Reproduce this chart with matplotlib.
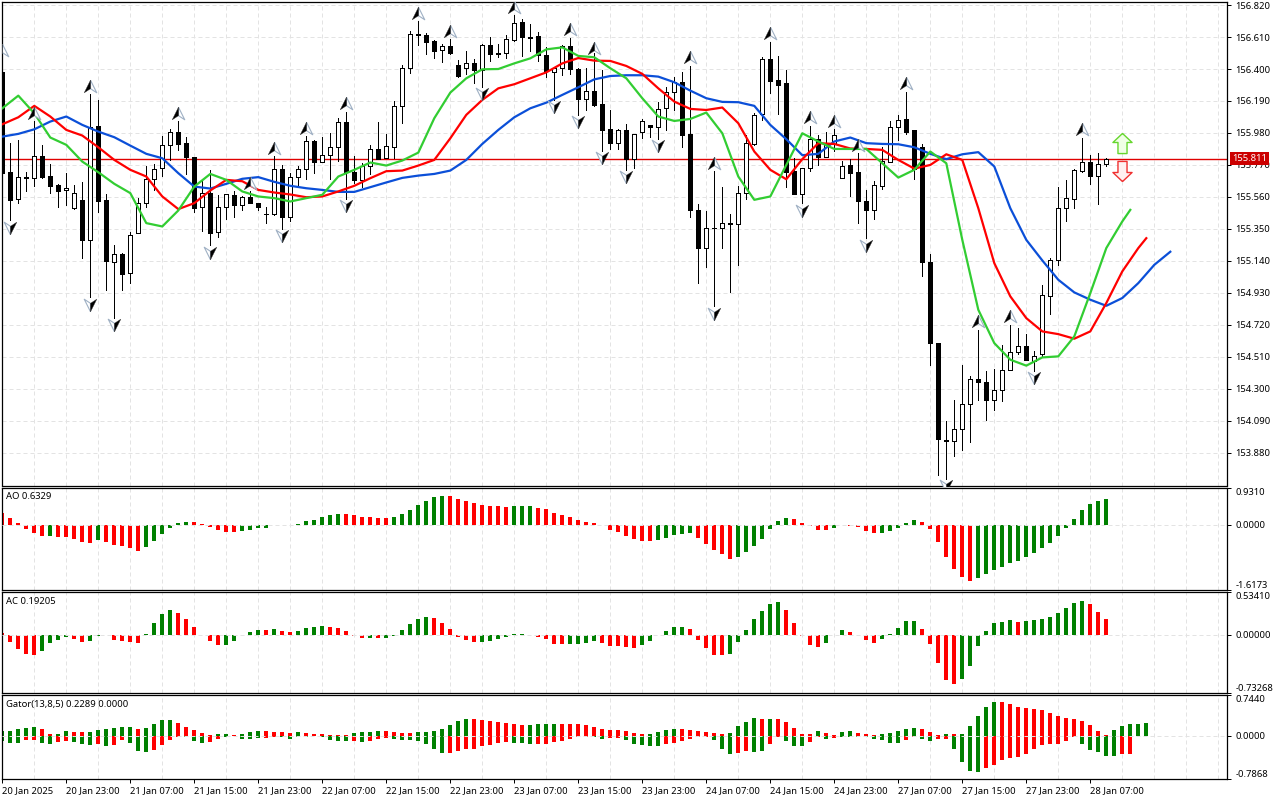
import matplotlib
matplotlib.use("Agg")
import matplotlib.pyplot as plt
import numpy as np

plt.rcParams['font.family'] = ['Noto Sans', 'DejaVu Sans']

# candles, one entry per hour bar
highs = [156.394,155.913,155.934,155.722,156.061,155.902,155.777,155.646,155.718,155.637,
 155.655,156.236,156.197,155.580,155.246,155.191,155.329,155.552,155.760,155.777,
 155.961,156.004,156.061,155.954,155.825,155.679,155.738,155.574,155.578,155.602,
 155.563,155.600,155.521,155.493,155.830,155.770,155.716,155.764,155.961,155.934,
 155.956,155.978,156.077,156.118,155.829,155.781,155.902,156.053,155.972,156.190,
 156.424,156.647,156.715,156.634,156.588,156.562,156.595,156.457,156.518,156.464,
 156.562,156.608,156.564,156.621,156.755,156.726,156.696,156.641,156.547,156.405,
 156.558,156.604,156.405,156.405,156.503,156.394,156.131,156.004,156.039,155.972,
 156.070,156.031,156.184,156.280,156.350,156.381,156.420,155.512,155.469,155.731,
 155.626,155.449,155.633,155.967,156.109,156.477,156.577,156.486,156.394,155.814,
 155.749,156.026,155.967,155.987,156.004,155.795,155.812,155.847,155.606,155.663,
 155.891,156.061,156.099,156.249,156.000,155.910,155.187,154.600,154.086,154.229,
 154.458,154.386,154.683,154.419,154.430,154.589,154.721,154.701,154.662,154.548,
 154.983,155.156,155.624,155.672,155.742,155.945,155.836,155.851,155.814]
lows = [155.705,155.410,155.523,155.596,155.635,155.687,155.589,155.491,155.510,155.480,
 155.162,154.900,155.464,154.946,154.764,154.946,154.998,155.322,155.491,155.606,
 155.700,155.803,155.869,155.711,155.458,155.333,155.246,155.300,155.416,155.425,
 155.471,155.517,155.471,155.392,155.442,155.350,155.401,155.628,155.679,155.714,
 155.792,155.679,155.799,155.547,155.650,155.628,155.711,155.808,155.814,155.814,
 156.048,156.376,156.558,156.499,156.472,156.448,156.501,156.350,156.368,156.311,
 156.284,156.453,156.481,156.475,156.584,156.488,156.521,156.455,156.350,156.197,
 156.361,156.368,156.099,156.131,156.158,155.864,155.875,155.875,155.738,155.749,
 155.948,155.956,155.943,156.000,156.131,155.891,155.425,154.998,155.103,154.841,
 155.222,154.933,155.114,155.547,155.902,156.066,156.245,156.105,155.622,155.576,
 155.517,155.727,155.770,155.819,155.864,155.681,155.567,155.392,155.287,155.418,
 155.615,155.788,155.934,155.974,155.679,155.042,154.458,153.732,153.708,153.857,
 153.896,153.949,154.224,154.093,154.163,154.218,154.423,154.528,154.487,154.419,
 154.509,154.793,155.114,155.399,155.484,155.722,155.646,155.515,155.766]
body_top = [156.383,155.722,155.690,155.690,155.827,155.829,155.698,155.639,155.617,155.585,
 155.541,156.017,156.026,155.541,155.184,155.187,155.309,155.519,155.676,155.742,
 155.899,155.985,155.985,155.913,155.821,155.585,155.585,155.493,155.578,155.574,
 155.558,155.558,155.521,155.449,155.742,155.742,155.690,155.742,155.926,155.926,
 155.834,155.886,156.050,156.050,155.722,155.764,155.873,155.873,155.893,156.155,
 156.405,156.628,156.628,156.621,156.582,156.549,156.549,156.424,156.437,156.437,
 156.556,156.556,156.503,156.595,156.704,156.706,156.612,156.615,156.490,156.405,
 156.551,156.549,156.402,156.254,156.256,156.168,156.004,155.998,155.998,155.972,
 156.057,156.031,156.136,156.247,156.317,156.315,155.974,155.475,155.355,155.357,
 155.388,155.388,155.585,155.913,156.096,156.464,156.464,156.328,156.306,155.729,
 155.749,155.939,155.939,155.908,155.965,155.766,155.770,155.722,155.532,155.637,
 155.795,156.017,156.064,156.072,155.998,155.889,155.132,154.600,153.964,154.036,
 154.200,154.364,154.364,154.345,154.292,154.423,154.541,154.581,154.581,154.515,
 154.915,155.145,155.486,155.552,155.735,155.788,155.788,155.773,155.812]
body_bot = [155.720,155.543,155.545,155.681,155.683,155.694,155.635,155.602,155.604,155.484,
 155.274,155.274,155.536,155.136,155.132,155.057,155.060,155.322,155.519,155.676,
 155.749,155.899,155.910,155.825,155.484,155.493,155.326,155.329,155.493,155.504,
 155.504,155.517,155.491,155.445,155.447,155.425,155.427,155.690,155.742,155.792,
 155.792,155.834,155.886,155.722,155.672,155.674,155.762,155.812,155.814,155.891,
 156.155,156.405,156.621,156.580,156.521,156.523,156.507,156.354,156.409,156.396,
 156.396,156.497,156.497,156.503,156.588,156.608,156.606,156.490,156.385,156.378,
 156.405,156.402,156.206,156.206,156.164,156.002,155.917,155.917,155.808,155.808,
 155.985,156.022,156.022,156.142,156.247,155.969,155.477,155.222,155.222,155.353,
 155.355,155.381,155.381,155.585,155.906,156.107,156.324,156.297,155.725,155.580,
 155.582,155.749,155.819,155.819,155.908,155.687,155.720,155.530,155.477,155.477,
 155.635,155.792,156.017,155.987,155.742,155.130,154.600,153.971,153.955,153.957,
 154.036,154.200,154.342,154.224,154.226,154.292,154.423,154.541,154.487,154.480,
 154.526,154.907,155.145,155.486,155.545,155.733,155.700,155.700,155.773]
candle_dirs = ("ddududdduu" "dudduduuuu" "uuddduduud" "uddduduuud" "uuudduuduu"
 "uuddduddud" "udduuddddu" "uddudddudu" "uduuudddud" "uduuuudddd"
 "uuduuudddu" "uuuddddddu" "uudduuuudu" "uuuuuuduu")

last_price = 155.811

# alligator lines, read every second bar
jaw_idx = list(range(0, 147, 2))
jaw = [155.956,155.974,156.004,156.055,156.088,156.033,155.989,155.952,155.897,155.843,
 155.814,155.716,155.628,155.615,155.646,155.679,155.690,155.659,155.633,155.617,
 155.606,155.593,155.593,155.624,155.655,155.685,155.700,155.711,155.733,155.803,
 155.908,156.000,156.083,156.142,156.179,156.230,156.280,156.332,156.354,156.359,
 156.359,156.350,156.313,156.258,156.208,156.184,156.182,156.158,156.033,155.939,
 155.834,155.843,155.924,155.950,155.913,155.908,155.906,155.886,155.843,155.808,
 155.840,155.854,155.760,155.486,155.278,155.143,155.016,154.933,154.885,154.845,
 154.896,154.994,155.114,155.200]
teeth_idx = list(range(0, 143, 2)) + [143]
teeth = [156.037,156.083,156.158,156.088,156.000,155.963,155.886,155.803,155.738,155.694,
 155.563,155.480,155.519,155.602,155.672,155.663,155.606,155.589,155.576,155.558,
 155.563,155.596,155.633,155.683,155.729,155.733,155.766,155.803,155.945,156.099,
 156.197,156.273,156.300,156.339,156.378,156.437,156.472,156.455,156.453,156.420,
 156.368,156.273,156.186,156.138,156.131,156.147,156.044,155.858,155.738,155.676,
 155.808,155.913,155.908,155.878,155.875,155.869,155.803,155.746,155.770,155.840,
 155.803,155.486,155.125,154.907,154.764,154.677,154.659,154.629,154.677,154.863,
 155.071,155.224,155.289]
lips_idx = list(range(0, 141, 2)) + [141]
lips = [156.142,156.225,156.109,155.950,155.902,155.792,155.722,155.646,155.585,155.388,
 155.366,155.471,155.628,155.711,155.672,155.596,155.563,155.552,155.530,155.552,
 155.574,155.694,155.738,155.786,155.766,155.799,155.851,156.077,156.245,156.339,
 156.398,156.400,156.437,156.470,156.529,156.542,156.486,156.477,156.405,156.339,
 156.208,156.088,156.059,156.072,156.114,155.978,155.694,155.541,155.563,155.770,
 155.978,155.924,155.875,155.875,155.875,155.781,155.687,155.738,155.858,155.781,
 155.278,154.819,154.600,154.491,154.452,154.506,154.513,154.644,154.928,155.224,
 155.399,155.475]

# fractals
frac_up_idx = [0,4,11,22,31,34,38,43,52,56,64,71,74,86,89,96,101,104,107,113,122,126,135]
frac_up = [156.525,156.114,156.289,156.114,155.650,155.884,156.015,156.175,156.770,156.652,
 156.809,156.661,156.536,156.477,155.786,156.634,156.083,156.059,155.902,156.306,
 154.743,154.775,156.004]
frac_dn_idx = [1,11,14,26,35,43,60,69,72,75,78,82,89,100,108,118,129]
frac_dn = [155.359,154.852,154.721,155.195,155.305,155.501,156.234,156.153,156.050,155.814,
 155.694,155.895,154.793,155.469,155.239,153.664,154.371]

# AO
ao = [.292,.175,.05,-.092,-.2,-.275,-.275,-.3,-.3,-.35,
 -.425,-.45,-.375,-.425,-.5,-.525,-.575,-.65,-.55,-.4,
 -.225,-.075,.05,.075,.075,.017,-.042,-.125,-.175,-.175,
 -.15,-.125,-.075,-.075,-.008,-.008,.003,.017,.1,.125,
 .2,.25,.275,.275,.25,.2,.2,.175,.175,.2,
 .275,.375,.5,.6,.7,.725,.725,.65,.6,.55,
 .5,.475,.475,.45,.475,.475,.475,.425,.4,.3,
 .25,.2,.125,.075,.05,-.008,-.125,-.175,-.275,-.35,
 -.4,-.4,-.375,-.325,-.25,-.225,-.2,-.325,-.475,-.625,
 -.725,-.85,-.8,-.675,-.525,-.35,-.1,.1,.175,.15,
 .05,-.033,-.125,-.125,-.075,-.008,-.025,-.05,-.15,-.2,
 -.2,-.15,-.075,.05,.125,.075,-.1,-.425,-.8,-1.1,
 -1.3,-1.4,-1.325,-1.225,-1.125,-1.05,-.95,-.9,-.8,-.7,
 -.575,-.45,-.275,-.075,.15,.375,.525,.6,.633]
ao_colors = ("rrrrrrgrrr" "rrgrrrrrgg" "ggggrrrrrr" "gggggggggg" "gggrrrrrrg"
 "ggggggrrrr" "rrrrgggrrr" "rrrrrrrrrr" "rrgggggrrr" "rrgggggggr"
 "rrrrggrrrr" "gggggrrrrr" "rrgggggggg" "ggggggggg")

# AC
ac = [.021,-.088,-.176,-.238,-.251,-.201,-.100,-.063,-.025,-.050,
 -.088,-.075,-.013,-.004,-.063,-.075,-.088,-.100,.013,.150,
 .263,.314,.276,.201,.100,-.008,-.075,-.125,-.125,-.075,
 -.008,.038,.063,.063,.075,.050,.038,.050,.088,.100,
 .113,.100,.088,.050,-.013,-.038,-.038,-.038,-.038,-.013,
 .063,.138,.201,.226,.213,.150,.075,-.025,-.063,-.088,
 -.088,-.075,-.050,-.025,.013,.013,-.004,-.025,-.050,-.113,
 -.113,-.113,-.113,-.100,-.075,-.100,-.138,-.138,-.150,-.163,
 -.125,-.075,-.004,.050,.100,.100,.075,-.063,-.163,-.251,
 -.251,-.238,-.088,.063,.201,.301,.389,.414,.314,.150,
 -.021,-.125,-.150,-.100,-.008,.063,.038,-.004,-.063,-.100,
 -.050,.008,.088,.176,.176,.075,-.113,-.351,-.564,-.614,
 -.552,-.389,-.138,.050,.150,.163,.188,.163,.176,.188,
 .201,.226,.276,.339,.401,.426,.389,.288,.192]
ac_colors = ("rrrrrggggr" "rggrrrrrgg" "ggrrrrrrgg" "gggrgrrggg" "grrrrrgrgg"
 "ggggrrrrrr" "ggggggrrrr" "rggggrrrrr" "ggggggrrrr" "rgggggggrr"
 "rrrgggrrrr" "gggggrrrrr" "gggggggrgg" "ggggggrrr")

# gator, upper and lower histogram
gator_up = [.085,.085,.121,.140,.158,.121,.030,.030,.085,.067,
 .067,.067,.103,.121,.140,.158,.158,.121,.140,.212,
 .285,.285,.231,.158,.103,.049,.012,.030,.030,.012,
 .030,.067,.085,.085,.067,.067,.049,.067,.049,.030,
 .030,.012,.012,.012,.049,.067,.067,.085,.085,.067,
 .049,.049,.067,.067,.085,.121,.194,.267,.304,.304,
 .285,.267,.249,.231,.212,.194,.194,.212,.212,.212,
 .212,.212,.212,.194,.158,.121,.103,.103,.085,.049,
 .030,.030,.067,.103,.121,.121,.103,.085,.067,.049,
 .030,.049,.176,.249,.322,.304,.304,.304,.249,.140,
 .030,.030,.085,.049,.012,.067,.085,.049,.030,.012,
 .030,.049,.085,.121,.140,.121,.067,.012,.030,.030,
 .030,.176,.358,.522,.613,.613,.577,.522,.504,.486,
 .467,.413,.358,.322,.304,.267,.194,.085,.012,.103,
 .176,.212,.212,.229]
gator_up_colors = ("gggggrrggr" "rggggggrgg" "ggrrrrrggr" "gggrrrrgrr" "rrrrggggrr"
 "rrgggggggr" "rrrrrrgggg" "rrrrrrrrrr" "rggggrrrrr" "rggggrgrrr"
 "rrgrrggrrr" "gggggrrrgr" "gggggrrrrr" "rrrrrrrrrg" "gggg")
gator_dn = [-.097,-.134,-.134,-.079,-.079,-.134,-.152,-.115,-.097,-.115,
 -.152,-.170,-.152,-.188,-.170,-.079,-.134,-.279,-.297,-.261,
 -.170,-.079,-.024,-.018,-.097,-.134,-.115,-.061,-.018,-.006,
 -.049,-.061,-.036,-.036,-.030,-.018,-.049,-.018,-.018,-.012,
 -.030,-.079,-.097,-.097,-.097,-.115,-.097,-.061,-.036,-.049,
 -.079,-.079,-.097,-.152,-.243,-.316,-.316,-.279,-.243,-.243,
 -.188,-.170,-.134,-.115,-.134,-.134,-.152,-.152,-.152,-.115,
 -.097,-.061,-.024,-.018,-.024,-.061,-.042,-.042,-.079,-.140,
 -.170,-.188,-.188,-.152,-.134,-.097,-.061,-.018,-.018,-.079,
 -.243,-.334,-.316,-.279,-.297,-.279,-.152,-.018,-.097,-.188,
 -.188,-.115,-.018,-.061,-.042,-.018,-.018,-.024,-.018,-.061,
 -.079,-.134,-.134,-.079,-.018,-.061,-.097,-.061,-.061,-.243,
 -.480,-.643,-.662,-.589,-.534,-.443,-.407,-.388,-.334,-.243,
 -.170,-.152,-.152,-.097,-.024,-.152,-.261,-.297,-.370,-.370,
 -.334,-.334,0.0,-.006]
gator_dn_colors = ("gggrrggrrg" "ggrgrrgggr" "rrrgggrrgg" "gggrrggggg" "ggggrgrrrg"
 "ggggggrrrr" "rrrrgggrrr" "rrrrggrrgg" "gggrrrrrrg" "ggrrggrrgg"
 "grrgrggggg" "gggrrggrrg" "gggrrrrrrr" "rrrrrggggg" "rrrr")

price_ticks = [156.820,156.610,156.400,156.190,155.980,155.770,155.560,155.350,
 155.140,154.930,154.720,154.510,154.300,154.090,153.880]
date_idx = list(range(0, 137, 8))
date_labels = ["20 Jan 2025","20 Jan 23:00","21 Jan 07:00","21 Jan 15:00","21 Jan 23:00",
 "22 Jan 07:00","22 Jan 15:00","22 Jan 23:00","23 Jan 07:00","23 Jan 15:00","23 Jan 23:00",
 "24 Jan 07:00","24 Jan 15:00","24 Jan 23:00","27 Jan 07:00","27 Jan 15:00","27 Jan 23:00",
 "28 Jan 07:00"]

W, H = 1280, 800
FS = 6.8
GRID = '#e3e3e3'
bar_cols = {'r': '#ff0000', 'g': '#008000'}
x_left = 2.3
x_right = 1227.0
xmax = (x_right - x_left) / 8.0

fig = plt.figure(figsize=(12.8, 8.0), dpi=100, facecolor='white')

def make_panel(y0, y1, ylim):
    ax = fig.add_axes([x_left / W, 1 - y1 / H, (x_right - x_left) / W, (y1 - y0) / H])
    ax.set_xlim(0, xmax)
    ax.set_ylim(*ylim)
    for s in ax.spines.values():
        s.set_linewidth(0.9)
        s.set_color('black')
    ax.yaxis.tick_right()
    ax.set_xticks(np.arange(0, xmax, 4), minor=True)
    ax.xaxis.grid(True, which='minor', color=GRID, lw=0.72, ls=(0, (4, 3)))
    ax.set_axisbelow(True)
    ax.tick_params(axis='x', which='minor', length=0)
    ax.tick_params(axis='y', length=3, width=0.72, labelsize=FS, pad=3)
    ax.set_xticks([])
    return ax

def histogram(ax, values, colors):
    c = [bar_cols[k] for k in colors]
    ax.bar(np.arange(len(values)), values, width=0.5, color=c, linewidth=0, zorder=2, antialiased=False)

def sub_panel(y0, y1, top, bottom, top_lab, zero_lab, bot_lab, title):
    ax = make_panel(y0, y1, (bottom, top))
    ax.axhline(0, color=GRID, lw=0.72, ls=(0, (4, 3)), zorder=3)
    ax.set_yticks([top, 0, bottom])
    ax.set_yticklabels([top_lab, zero_lab, bot_lab])
    labs = ax.get_yticklabels()
    labs[0].set_va('top')
    labs[2].set_va('bottom')
    ax.text(4 / (x_right - x_left), 1 - 9 / (y1 - y0), title, transform=ax.transAxes,
            fontsize=FS, va='center', ha='left', color='black')
    return ax

# main price panel
ax = make_panel(2, 485.5, (153.665, 156.840))
ax.set_yticks(price_ticks)
ax.set_yticklabels(["%.3f" % p for p in price_ticks])
ax.yaxis.grid(True, color=GRID, lw=0.72, ls=(0, (4, 3)))

idx = np.arange(len(highs))
ax.axhline(last_price, color='#e00000', lw=1.0, zorder=2.5)
ax.vlines(idx, lows, highs, color='black', lw=0.6, zorder=3, antialiased=False)
tops = np.array(body_top)
bots = np.array(body_bot)
faces = ['white' if d == 'u' else 'black' for d in candle_dirs]
ax.bar(idx, tops - bots, bottom=bots, width=0.5, color=faces, edgecolor='black',
       linewidth=0.55, zorder=4, antialiased=False)

ax.plot(jaw_idx, jaw, color='#0b4fd8', lw=1.6, zorder=5)
ax.plot(teeth_idx, teeth, color='#ff0000', lw=1.6, zorder=6)
ax.plot(lips_idx, lips, color='#32cd32', lw=1.6, zorder=7)

# fractal arrows, half black half white
up_l = [(0, 1), (-1, -1), (0, -0.35), (0, 1)]
up_r = [(0, 1), (1, -1), (0, -0.35), (0, 1)]
dn_l = [(0, -1), (-1, 1), (0, 0.35), (0, -1)]
dn_r = [(0, -1), (1, 1), (0, 0.35), (0, -1)]
ms = 9.0
ax.plot(frac_up_idx, frac_up, ls='none', marker=up_r, ms=ms, mfc='white', mec='#9fb0c4', mew=0.8, zorder=8)
ax.plot(frac_up_idx, frac_up, ls='none', marker=up_l, ms=ms, mfc='black', mec='#303030', mew=0.3, zorder=8)
ax.plot(frac_dn_idx, frac_dn, ls='none', marker=dn_l, ms=ms, mfc='white', mec='#9fb0c4', mew=0.8, zorder=8)
ax.plot(frac_dn_idx, frac_dn, ls='none', marker=dn_r, ms=ms, mfc='black', mec='#303030', mew=0.3, zorder=8)

# big signal arrows on the right
arrow_up = [(0, 1), (0.95, 0.1), (0.45, 0.1), (0.45, -1), (-0.45, -1), (-0.45, 0.1), (-0.95, 0.1), (0, 1)]
arrow_dn = [(x, -y) for x, y in arrow_up]
ax.plot([140], [155.915], ls='none', marker=arrow_up, ms=14.5, mfc='#f0ffe6', mec='#66d62e', mew=1.0, zorder=8)
ax.plot([140], [155.731], ls='none', marker=arrow_dn, ms=14.5, mfc='#fff0f0', mec='#f03030', mew=1.0, zorder=8)

# last price box
ax.text((1249.5 - x_left) / 8.0, last_price, "%.3f" % last_price, color='white', fontsize=FS,
        ha='center', va='center', clip_on=False, zorder=20,
        bbox=dict(facecolor='#cc0000', edgecolor='none', boxstyle='square,pad=0.2'))

# sub windows
ax_ao = sub_panel(487.5, 590, 0.9310, -1.6173, "0.9310", "0.0000", "-1.6173", "AO 0.6329")
histogram(ax_ao, ao, ao_colors)

ax_ac = sub_panel(592, 693, 0.53410, -0.73268, "0.53410", "0.00000", "-0.73268", "AC 0.19205")
histogram(ax_ac, ac, ac_colors)

ax_g = sub_panel(695, 779, 0.7440, -0.7868, "0.7440", "0.0000", "-0.7868", "Gator(13,8,5) 0.2289 0.0000")
histogram(ax_g, gator_up, gator_up_colors)
histogram(ax_g, gator_dn, gator_dn_colors)

ax_g.set_xticks(date_idx)
ax_g.set_xticklabels(date_labels, ha='left')
ax_g.tick_params(axis='x', which='major', length=3, width=0.72, labelsize=FS, pad=2)

fig.savefig('out.png', dpi=100, facecolor='white')
